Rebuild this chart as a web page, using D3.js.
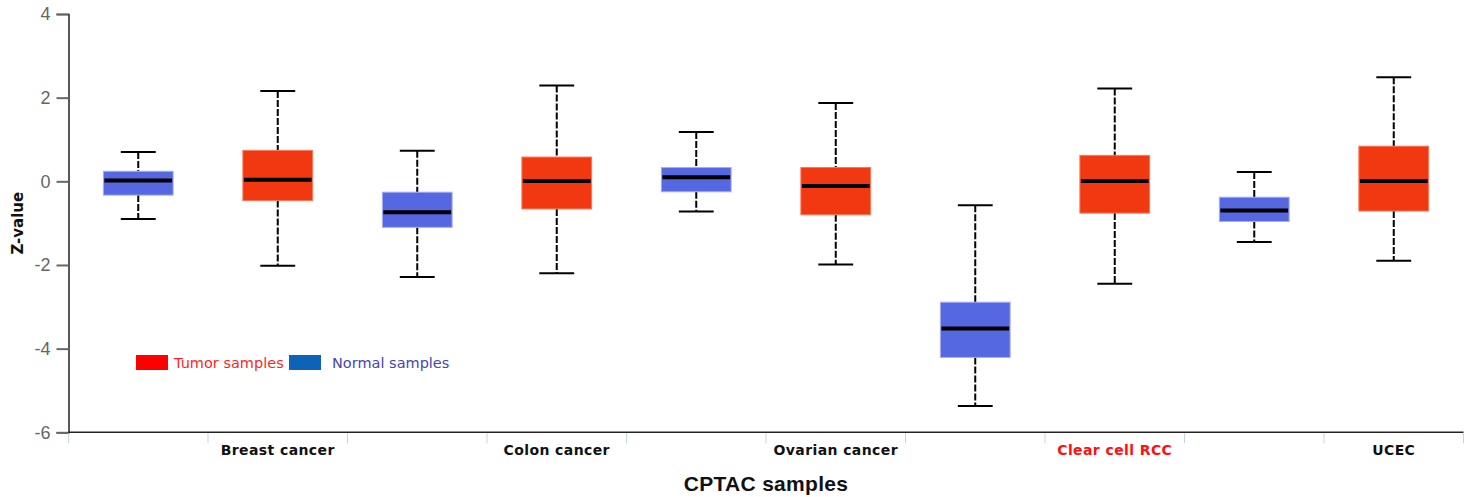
<!DOCTYPE html>
<html>
<head>
<meta charset="utf-8">
<script src="https://cdn.jsdelivr.net/npm/d3@7"></script>
<style>
  html, body { margin: 0; padding: 0; background: #fff; }
  svg { display: block; }
</style>
</head>
<body>
<svg id="chart" width="1475" height="497"></svg>
<script>
// Cancer types, each with a normal box followed by a tumor box
const cancerTypes = ["Breast cancer", "Colon cancer", "Ovarian cancer", "Clear cell RCC", "UCEC"];
const sampleTypes = ["Normal", "Tumor"];

// Box statistics per cancer type: [whisker low, Q1, median, Q3, whisker high]
const normalStats = [
  [-0.90, -0.33, 0.02, 0.24, 0.70],
  [-2.29, -1.10, -0.74, -0.26, 0.73],
  [-0.72, -0.25, 0.10, 0.33, 1.18],
  [-5.37, -4.21, -3.52, -2.89, -0.57],
  [-1.45, -0.96, -0.70, -0.38, 0.22]
];
const tumorStats = [
  [-2.02, -0.46, 0.04, 0.74, 2.16],
  [-2.20, -0.66, 0.01, 0.58, 2.29],
  [-1.99, -0.80, -0.11, 0.33, 1.87],
  [-2.45, -0.76, 0.01, 0.62, 2.22],
  [-1.90, -0.71, 0.01, 0.84, 2.49]
];

const yTicks = [-6, -4, -2, 0, 2, 4];
const highlighted = ["Clear cell RCC"];

const colors = { Normal: "#5568e2", Tumor: "#f23811" };
const strokes = { Normal: "#a4acf2", Tumor: "#f7775a" };

// Flatten into one row per box
const boxes = [];
cancerTypes.forEach((c, i) => {
  boxes.push({ key: c + "|Normal", cancer: c, type: "Normal", s: normalStats[i] });
  boxes.push({ key: c + "|Tumor", cancer: c, type: "Tumor", s: tumorStats[i] });
});

const svg = d3.select("#chart");
const plotLeft = 68.5, plotRight = 1463.5, plotTop = 14, plotBottom = 432.3;

const x = d3.scaleBand().domain(boxes.map(d => d.key)).range([plotLeft, plotRight]).padding(0);
const y = d3.scaleLinear().domain([-6, 4]).range([plotBottom, plotTop]);

const bw = x.bandwidth() * 0.5;
const capW = x.bandwidth() * 0.25;

// Y axis
const yAxis = svg.append("g")
  .attr("transform", `translate(${plotLeft},0)`)
  .call(d3.axisLeft(y).tickValues(yTicks).tickSize(12).tickPadding(6).tickFormat(d => String(d)));
yAxis.select(".domain").attr("stroke", "#222").attr("stroke-width", 1.5);
yAxis.selectAll(".tick line").attr("stroke", "#666").attr("stroke-width", 2);
yAxis.selectAll(".tick text")
  .attr("fill", "#666")
  .style("font-family", "'Liberation Sans', Arial, sans-serif")
  .style("font-size", "18px");

// X axis baseline and band boundary ticks
svg.append("line")
  .attr("x1", plotLeft).attr("x2", plotRight).attr("y1", plotBottom).attr("y2", plotBottom)
  .attr("stroke", "#222").attr("stroke-width", 1.5);
const bounds = boxes.map(d => x(d.key)).concat([plotRight]);
svg.append("g").selectAll("line").data(bounds).join("line")
  .attr("x1", d => d).attr("x2", d => d)
  .attr("y1", plotBottom + 1).attr("y2", plotBottom + 11)
  .attr("stroke", "#c5d3e2").attr("stroke-width", 1);

// Category labels under the tumor boxes
svg.append("g").selectAll("text").data(boxes.filter(d => d.type === "Tumor")).join("text")
  .attr("x", d => x(d.key) + x.bandwidth() / 2)
  .attr("y", 455)
  .attr("text-anchor", "middle")
  .style("font-family", "'DejaVu Sans', Verdana, sans-serif")
  .style("font-weight", "bold")
  .style("font-size", "14px")
  .style("letter-spacing", "0.4px")
  .attr("fill", d => highlighted.includes(d.cancer) ? "#ff1010" : "#111")
  .text(d => d.cancer);

// Axis titles
svg.append("text")
  .attr("x", (plotLeft + plotRight) / 2).attr("y", 491)
  .attr("text-anchor", "middle")
  .style("font-family", "'Liberation Sans', Arial, sans-serif")
  .style("font-weight", "bold")
  .style("font-size", "21px")
  .style("letter-spacing", "0.3px")
  .attr("fill", "#111")
  .text("CPTAC samples");

svg.append("text")
  .attr("transform", `translate(23,${(plotTop + plotBottom) / 2}) rotate(-90)`)
  .attr("text-anchor", "middle")
  .style("font-family", "'DejaVu Sans', Verdana, sans-serif")
  .style("font-weight", "bold")
  .style("font-size", "15px")
  .attr("fill", "#111")
  .text("Z-value");

// Box plots
const g = svg.append("g").selectAll("g").data(boxes).join("g")
  .attr("transform", d => `translate(${x(d.key) + x.bandwidth() / 2},0)`);

// dashed whiskers
g.append("line")
  .attr("x1", 0).attr("x2", 0)
  .attr("y1", d => y(d.s[4])).attr("y2", d => y(d.s[3]))
  .attr("stroke", "#000").attr("stroke-width", 2).attr("stroke-dasharray", "7,2");
g.append("line")
  .attr("x1", 0).attr("x2", 0)
  .attr("y1", d => y(d.s[1])).attr("y2", d => y(d.s[0]))
  .attr("stroke", "#000").attr("stroke-width", 2).attr("stroke-dasharray", "7,2");

// whisker caps
g.selectAll(".cap").data(d => [d.s[0], d.s[4]]).join("line")
  .attr("class", "cap")
  .attr("x1", -capW / 2).attr("x2", capW / 2)
  .attr("y1", v => y(v)).attr("y2", v => y(v))
  .attr("stroke", "#000").attr("stroke-width", 2);

// interquartile box
g.append("rect")
  .attr("x", -bw / 2).attr("width", bw)
  .attr("y", d => y(d.s[3]))
  .attr("height", d => y(d.s[1]) - y(d.s[3]))
  .attr("fill", d => colors[d.type])
  .attr("stroke", d => strokes[d.type]).attr("stroke-width", 1);

// median
g.append("line")
  .attr("x1", -bw / 2 + 1).attr("x2", bw / 2 - 1)
  .attr("y1", d => y(d.s[2])).attr("y2", d => y(d.s[2]))
  .attr("stroke", "#000").attr("stroke-width", 4);

// Legend
const legendItems = [
  { label: "Tumor samples", swatch: "#ff0000", text: "#ff1f1f", x: 136, tx: 174 },
  { label: "Normal samples", swatch: "#0d63b8", text: "#4545b3", x: 289, tx: 332 }
];
const lg = svg.append("g").selectAll("g").data(legendItems).join("g");
lg.append("rect")
  .attr("x", d => d.x).attr("y", 355).attr("width", 32).attr("height", 15)
  .attr("fill", d => d.swatch);
lg.append("text")
  .attr("x", d => d.tx).attr("y", 368)
  .style("font-family", "'DejaVu Sans', Verdana, sans-serif")
  .style("font-size", "14.5px")
  .attr("fill", d => d.text)
  .text(d => d.label);
</script>
</body>
</html>
